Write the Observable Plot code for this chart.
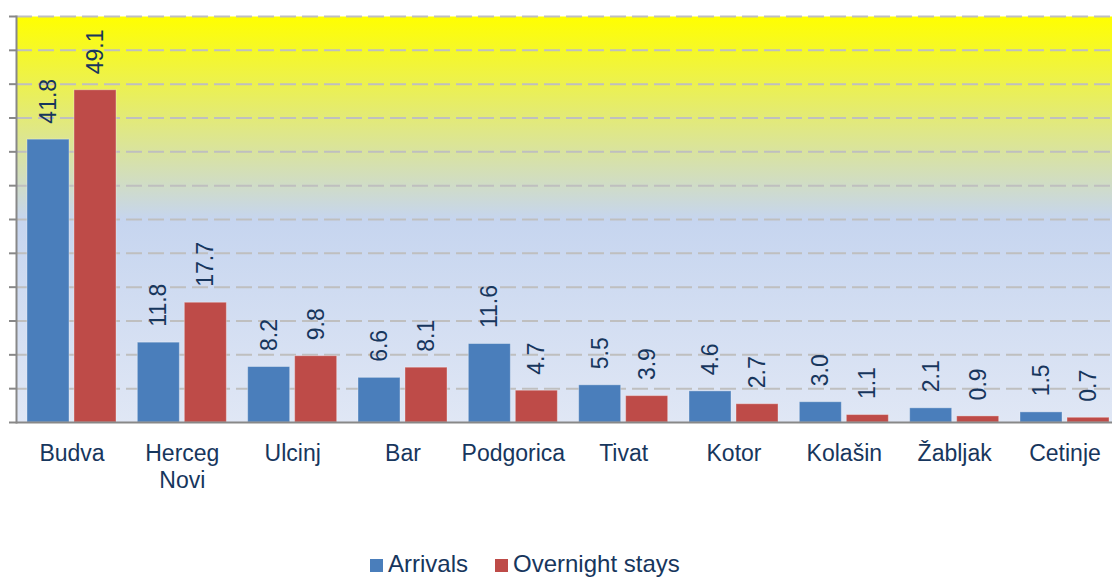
<!DOCTYPE html>
<html>
<head>
<meta charset="utf-8">
<script src="https://cdn.jsdelivr.net/npm/d3@7"></script>
<script src="https://cdn.jsdelivr.net/npm/@observablehq/plot@0.6"></script>
<style>
  html, body { margin: 0; padding: 0; background: #fff; overflow: hidden; width: 1112px; height: 577px; }
  #chart { position: relative; width: 1112px; height: 577px; font-family: "Liberation Sans", Arial, sans-serif; }
  #legend { position: absolute; left: 370px; top: 551px; font-size: 24px; line-height: 26px; color: #17365d; white-space: nowrap; }
  .item { display: inline-block; margin-right: 27px; }
  .sw { display: inline-block; width: 13px; height: 13px; margin-right: 5px; }
</style>
</head>
<body>
<div id="chart"></div>
<script>
const cities = ["Budva", "Herceg Novi", "Ulcinj", "Bar", "Podgorica", "Tivat", "Kotor", "Kolašin", "Žabljak", "Cetinje"];
const arrivals = [41.8, 11.8, 8.2, 6.6, 11.6, 5.5, 4.6, 3.0, 2.1, 1.5];
const stays = [49.1, 17.7, 9.8, 8.1, 4.7, 3.9, 2.7, 1.1, 0.9, 0.7];
const seriesNames = ["Arrivals", "Overnight stays"];
const seriesColors = ["#4a7ebb", "#be4b48"];
const yTicks = [0, 5, 10, 15, 20, 25, 30, 35, 40, 45, 50, 55, 60];

const navy = "#17365d";
const arrData = cities.map((c, i) => ({city: c, value: arrivals[i]}));
const stayData = cities.map((c, i) => ({city: c, value: stays[i]}));

const gradientDefs = () => {
  const svg = d3.create("svg:defs");
  const g = svg.append("linearGradient").attr("id", "bg").attr("x1", 0).attr("y1", 0).attr("x2", 0).attr("y2", 1);
  g.append("stop").attr("offset", "0%").attr("stop-color", "#ffff00");
  g.append("stop").attr("offset", "50%").attr("stop-color", "#c6d5ef");
  g.append("stop").attr("offset", "100%").attr("stop-color", "#e0e7f5");
  return svg.node();
};

const halfInset = 47;

const chart = Plot.plot({
  width: 1112,
  height: 500,
  marginTop: 16,
  marginLeft: 16,
  marginRight: 0,
  marginBottom: 78,
  style: {fontFamily: "'Liberation Sans', Arial, sans-serif", fontSize: "23px", color: navy, background: "transparent", overflow: "hidden"},
  x: {type: "band", domain: cities, range: [16.33, 1119.67], paddingInner: 0.193, paddingOuter: 0.0965, round: false},
  y: {domain: [0, 60]},
  marks: [
    gradientDefs,
    Plot.frame({fill: "url(#bg)", stroke: null}),
    Plot.ruleY(yTicks.filter(d => d > 0), {stroke: "#bfbfbf", strokeWidth: 2, strokeDasharray: "16,6"}),
    Plot.barY(arrData, {x: "city", y: "value", fill: seriesColors[0], stroke: "#ffffff", strokeOpacity: 0.35, strokeWidth: 1, insetRight: halfInset}),
    Plot.barY(stayData, {x: "city", y: "value", fill: seriesColors[1], stroke: "#ffffff", strokeOpacity: 0.35, strokeWidth: 1, insetLeft: halfInset}),
    Plot.text(arrData, {x: "city", y: "value", text: d => d.value.toFixed(1), rotate: -90, textAnchor: "start", lineAnchor: "middle", dx: -23.5, dy: -16, fill: navy, fontSize: 23}),
    Plot.text(stayData, {x: "city", y: "value", text: d => d.value.toFixed(1), rotate: -90, textAnchor: "start", lineAnchor: "middle", dx: 23.5, dy: -16, fill: navy, fontSize: 23}),
    Plot.axisY({ticks: yTicks, tickSize: 7, tickFormat: () => "", stroke: "#888", strokeWidth: 2, label: null}),
    Plot.frame({anchor: "left", stroke: "#888", strokeWidth: 2}),
    Plot.ruleY([0], {stroke: "#888", strokeWidth: 2}),
    Plot.axisX({tickSize: 0, tickPadding: 20, fontSize: 23, lineHeight: 1.16, fill: navy, label: null, tickFormat: d => d.replace(" ", "\n")})
  ]
});

const container = document.getElementById("chart");
container.appendChild(chart);

const legend = document.createElement("div");
legend.id = "legend";
seriesNames.forEach((name, i) => {
  const item = document.createElement("span");
  item.className = "item";
  const sw = document.createElement("span");
  sw.className = "sw";
  sw.style.background = seriesColors[i];
  item.appendChild(sw);
  item.appendChild(document.createTextNode(name));
  legend.appendChild(item);
});
container.appendChild(legend);
</script>
</body>
</html>
